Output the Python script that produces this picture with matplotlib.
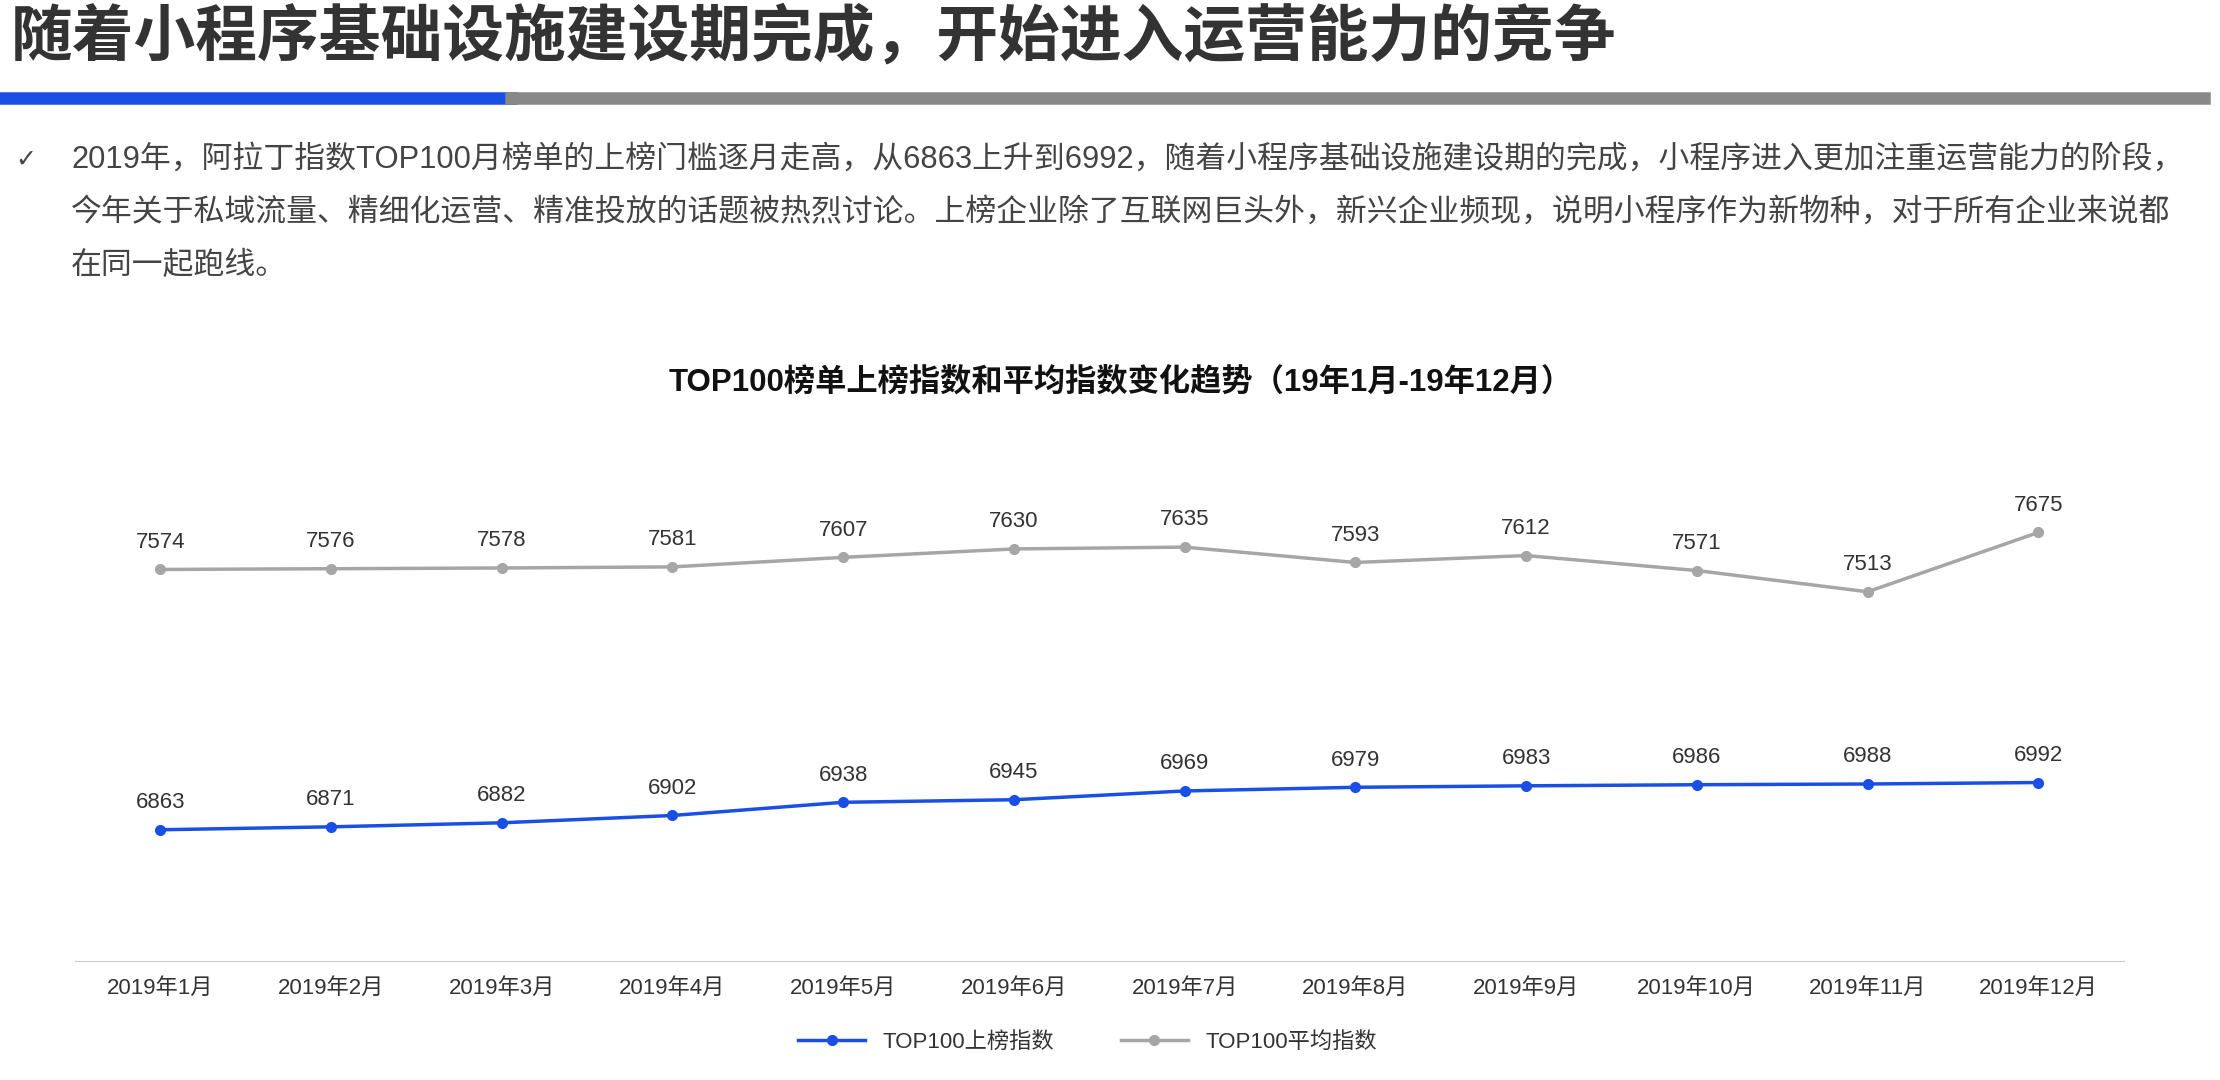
import matplotlib
matplotlib.use("Agg")
import matplotlib.pyplot as plt
from matplotlib.lines import Line2D
import numpy as np

plt.rcParams['font.family'] = ['Liberation Sans', 'Noto Sans CJK SC', 'DejaVu Sans']

months = [f"2019年{i}月" for i in range(1, 13)]
top100_threshold = [6863, 6871, 6882, 6902, 6938, 6945, 6969, 6979, 6983, 6986, 6988, 6992]
top100_average = [7574, 7576, 7578, 7581, 7607, 7630, 7635, 7593, 7612, 7571, 7513, 7675]

fig = plt.figure(figsize=(22.2, 10.8), dpi=100)
fig.patch.set_facecolor('white')

fig.text(0.005, 0.965, "随着小程序基础设施建设期完成，开始进入运营能力的竞争", fontsize=44.5,
         fontweight='bold', color='#333333', va='center', ha='left')
fig.add_artist(Line2D([0, 0.23], [0.909, 0.909], color='#1a4fe6', lw=9, transform=fig.transFigure))
fig.add_artist(Line2D([0.23, 0.993], [0.909, 0.909], color='#888888', lw=9, transform=fig.transFigure))

fig.text(0.007, 0.852, "✓", fontsize=18, color='#444444', va='center', family=['DejaVu Sans'])
lines = ["2019年，阿拉丁指数TOP100月榜单的上榜门槛逐月走高，从6863上升到6992，随着小程序基础设施建设期的完成，小程序进入更加注重运营能力的阶段，",
         "今年关于私域流量、精细化运营、精准投放的话题被热烈讨论。上榜企业除了互联网巨头外，新兴企业频现，说明小程序作为新物种，对于所有企业来说都",
         "在同一起跑线。"]
for i, t in enumerate(lines):
    fig.text(0.032, 0.852 - i * 0.049, t, fontsize=22.2, color='#444444', va='center', ha='left')

fig.text(0.505, 0.646, "TOP100榜单上榜指数和平均指数变化趋势（19年1月-19年12月）", fontsize=22.5,
         fontweight='bold', color='#111111', ha='center', va='center')

ax = fig.add_axes([0.0337, 0.110, 0.9229, 0.4624])
x = np.arange(len(months))
ax.plot(x, top100_threshold, color='#1a4fe6', lw=2.5, marker='o', ms=7, label='TOP100上榜指数')
ax.plot(x, top100_average, color='#a6a6a6', lw=2.5, marker='o', ms=7, label='TOP100平均指数')
for xi, v in zip(x, top100_threshold):
    ax.annotate(str(v), (xi, v), xytext=(0, 12), textcoords='offset points', ha='center', va='bottom', fontsize=16, color='#333333')
for xi, v in zip(x, top100_average):
    ax.annotate(str(v), (xi, v), xytext=(0, 12), textcoords='offset points', ha='center', va='bottom', fontsize=16, color='#333333')
ax.set_xlim(-0.5, 11.5)
ax.set_ylim(6504, 7868)
ax.set_xticks(x)
ax.set_xticklabels(months, fontsize=16, color='#333333')
ax.set_yticks([])
for s in ['top', 'left', 'right']:
    ax.spines[s].set_visible(False)
ax.spines['bottom'].set_color('#cccccc')
ax.tick_params(axis='x', length=0, pad=12)
ax.patch.set_alpha(0)

fig.legend(loc='center', bbox_to_anchor=(0.49, 0.035), ncol=2, frameon=False, fontsize=16,
           handlelength=3, columnspacing=3, labelcolor='#333333')

fig.savefig("out.png", dpi=100)
